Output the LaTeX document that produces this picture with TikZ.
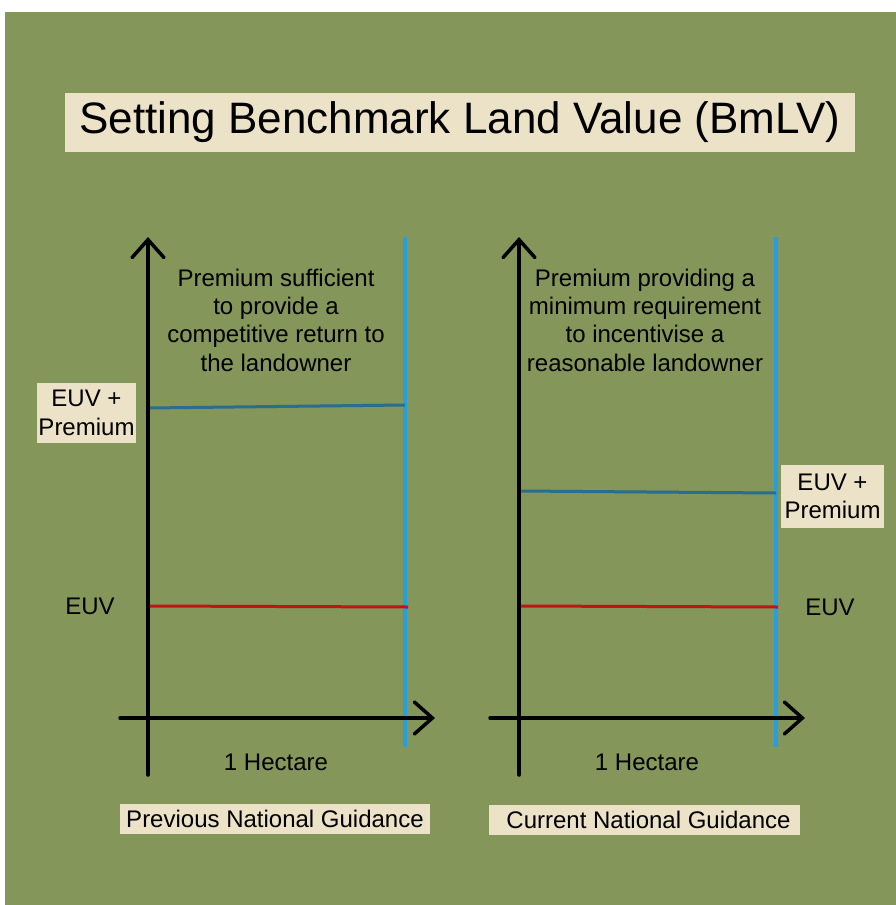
\documentclass[tikz,border=0pt]{standalone}
\usepackage{fontspec}
\setmainfont{Liberation Sans}
\usetikzlibrary{arrows.meta,positioning}
\definecolor{bggreen}{RGB}{132,150,89}
\definecolor{boxbeige}{RGB}{236,226,199}
\definecolor{edgeblue}{RGB}{35,160,225}
\definecolor{premblue}{RGB}{40,110,145}
\definecolor{euvred}{RGB}{195,20,20}

\begin{document}
\begin{tikzpicture}[x=1pt, y=-1pt,
    txt/.style={font=\fontsize{24}{28.3}\selectfont, align=center, inner sep=0pt},
    valbox/.style={txt, fill=boxbeige, inner sep=0pt},
    axis/.style={line width=3.5pt, line cap=round, -{Straight Barb[length=18pt, width=32pt, line cap=round]}},
    edge/.style={edgeblue, line width=3.5pt},
    premline/.style={premblue, line width=3pt},
    euvline/.style={euvred, line width=3pt},
]
    \useasboundingbox (0,0) rectangle (896,905);
    \fill[white] (0,0) rectangle (896,905);
    \fill[bggreen] (5,12) rectangle (896,905);

    \node[valbox, minimum width=790, minimum height=59, font=\fontsize{44}{50}\selectfont] (title) at (460,122.5) {Setting Benchmark Land Value (BmLV)};

    % previous guidance
    \coordinate (ybotA) at (148,775);
    \coordinate (ytopA) at (148,237);
    \coordinate (xleftA) at (120,718);
    \coordinate (xrightA) at (435,718);
    \coordinate (edgetopA) at (405,237);
    \coordinate (edgebotA) at (405,747);
    \coordinate (premlA) at (148,408);
    \coordinate (premrA) at (405,405);
    \coordinate (euvlA) at (148,606);
    \coordinate (euvrA) at (408,607);

    \draw[edge] (edgetopA) -- (edgebotA);
    \draw[premline] (premlA) -- (premrA);
    \draw[euvline] (euvlA) -- (euvrA);
    \draw[axis] (ybotA) -- (ytopA);
    \draw[axis] (xleftA) -- (xrightA);

    \node[txt] (noteA) at (276,320) {Premium sufficient\\to provide a\\competitive return to\\the landowner};
    \node[valbox, minimum width=99, minimum height=60] (premA) at (86.5,413) {EUV +\\Premium};
    \node[txt] (euvA) at (90,606) {EUV};
    \node[txt] (hectA) at (276,762) {1 Hectare};
    \node[valbox, minimum width=310, minimum height=30] (guideA) at (275,819) {Previous National Guidance};

    % current guidance
    \coordinate (ybotB) at (519,775);
    \coordinate (ytopB) at (519,237);
    \coordinate (xleftB) at (490,718);
    \coordinate (xrightB) at (805,718);
    \coordinate (edgetopB) at (776,237);
    \coordinate (edgebotB) at (776,747);
    \coordinate (premlB) at (519,491);
    \coordinate (premrB) at (776,493);
    \coordinate (euvlB) at (519,606);
    \coordinate (euvrB) at (778,607);

    \draw[edge] (edgetopB) -- (edgebotB);
    \draw[premline] (premlB) -- (premrB);
    \draw[euvline] (euvlB) -- (euvrB);
    \draw[axis] (ybotB) -- (ytopB);
    \draw[axis] (xleftB) -- (xrightB);

    \node[txt] (noteB) at (645,320) {Premium providing a\\minimum requirement\\to incentivise a\\reasonable landowner};
    \node[valbox, minimum width=103, minimum height=63] (premB) at (832.5,496.5) {EUV +\\Premium};
    \node[txt] (euvB) at (830,607) {EUV};
    \node[txt] (hectB) at (647,762) {1 Hectare};
    \node[valbox, minimum width=311, minimum height=30] (guideB) at (644.5,820) {\hspace{8pt}Current National Guidance};
\end{tikzpicture}
\end{document}
